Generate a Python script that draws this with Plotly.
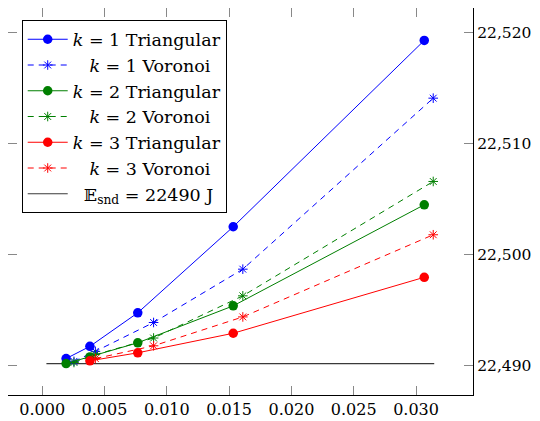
import plotly.graph_objects as go

# ---- data ----
h_tri = [0.00192, 0.00383, 0.00767, 0.01533, 0.03066]
h_vor = [0.00255, 0.00427, 0.00894, 0.01610, 0.03138]

e_tri_k1 = [22490.65, 22491.75, 22494.77, 22502.52, 22519.30]
e_vor_k1 = [22490.40, 22491.30, 22493.90, 22498.70, 22514.10]
e_tri_k2 = [22490.20, 22490.80, 22492.07, 22495.40, 22504.50]
e_vor_k2 = [22490.30, 22491.00, 22492.50, 22496.30, 22506.60]
h_tri_k3 = [0.00383, 0.00767, 0.01533, 0.03066]
e_tri_k3 = [22490.45, 22491.17, 22492.93, 22497.97]
h_vor_k3 = [0.00427, 0.00894, 0.01610, 0.03138]
e_vor_k3 = [22490.65, 22491.80, 22494.40, 22501.80]

ref_x = [0.00034, 0.03146]
ref_e = [22490.2, 22490.2]

x_ticks = [0.000, 0.005, 0.010, 0.015, 0.020, 0.025, 0.030]
y_ticks = [22490, 22500, 22510, 22520]

BLUE = "#0000ff"
GREEN = "#007f00"
RED = "#ff0000"
FONT = "DejaVu Serif"
NB = "&nbsp;"

fig = go.Figure()

fig.add_trace(go.Scatter(x=ref_x, y=ref_e, mode="lines",
                         line=dict(color="#3a3a3a", width=1.2),
                         name=NB * 2 + "𝔼<sub>snd</sub> = 22490 J", legendrank=1007))

def tri(x, y, c, k, rank):
    fig.add_trace(go.Scatter(x=x, y=y, mode="lines+markers",
                             line=dict(color=c, width=1),
                             marker=dict(symbol="circle", size=9.5, color=c),
                             name=f"<i>k</i> = {k} Triangular", legendrank=rank))

def vor(x, y, c, k, rank):
    fig.add_trace(go.Scatter(x=x, y=y, mode="lines+markers",
                             line=dict(color=c, width=1, dash="6px,5px"),
                             marker=dict(symbol="asterisk-open", size=8,
                                         line=dict(color=c, width=1)),
                             name=NB * 3 + f"<i>k</i> = {k} Voronoi", legendrank=rank))

tri(h_tri, e_tri_k1, BLUE, 1, 1001)
vor(h_vor, e_vor_k1, BLUE, 1, 1002)
tri(h_tri, e_tri_k2, GREEN, 2, 1003)
vor(h_vor, e_vor_k2, GREEN, 2, 1004)
tri(h_tri_k3, e_tri_k3, RED, 3, 1005)
vor(h_vor_k3, e_vor_k3, RED, 3, 1006)

fig.update_layout(
    width=540, height=421,
    margin=dict(l=0, r=75, t=0, b=34, autoexpand=False),
    paper_bgcolor="white", plot_bgcolor="white",
    font=dict(family=FONT, size=16, color="black"),
    showlegend=True,
    legend=dict(x=0.0295, y=0.968, xanchor="left", yanchor="top",
                bgcolor="white", bordercolor="black", borderwidth=1,
                itemwidth=40, font=dict(family=FONT, size=17.5),
                traceorder="normal"),
)

fig.update_xaxes(range=[-0.002743, 0.034571], tickvals=x_ticks,
                 ticktext=[f"{v:.3f}" for v in x_ticks], automargin=False,
                 showgrid=False, zeroline=False, showline=True, linecolor="black",
                 linewidth=1.2, mirror="ticks", ticks="inside", ticklen=9,
                 tickcolor="#888888", tickwidth=1, tickfont=dict(family=FONT, size=16))
fig.update_yaxes(range=[22487.37, 22522.22], tickvals=y_ticks,
                 ticktext=[f"{v:,}" for v in y_ticks], side="right", automargin=False,
                 showgrid=False, zeroline=False, showline=True, linecolor="black",
                 linewidth=1.2, mirror="ticks", ticks="inside", ticklen=9,
                 tickcolor="#888888", tickwidth=1, tickfont=dict(family=FONT, size=15.5))

fig.write_html("out.html")
